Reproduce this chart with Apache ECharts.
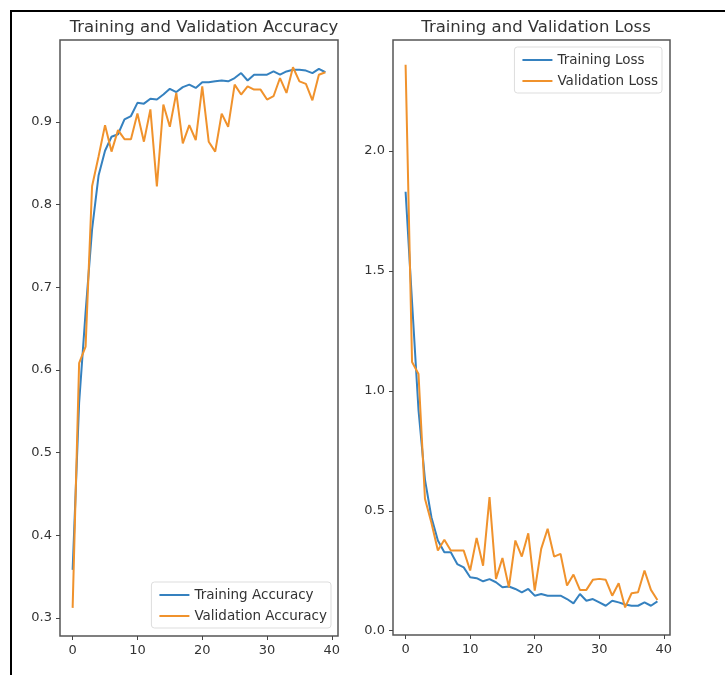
<!DOCTYPE html>
<html>
<head>
<meta charset="utf-8">
<script src="https://cdn.jsdelivr.net/npm/echarts@6/dist/echarts.min.js"></script>
<style>
  html, body { margin: 0; padding: 0; background: #fff; }
  #chart { width: 725px; height: 675px; }
</style>
</head>
<body>
<div id="chart"></div>
<script>
var trainAcc = [0.358, 0.56, 0.67, 0.77, 0.835, 0.865, 0.882, 0.885, 0.903, 0.907,
    0.923, 0.922, 0.928, 0.927, 0.933, 0.940, 0.936, 0.942, 0.945, 0.941,
    0.948, 0.948, 0.949, 0.950, 0.949, 0.953, 0.959, 0.950, 0.957, 0.957,
    0.957, 0.961, 0.957, 0.961, 0.963, 0.963, 0.962, 0.959, 0.964, 0.960];
var valAcc = [0.312, 0.608, 0.628, 0.822, 0.858, 0.896, 0.864, 0.890, 0.879, 0.879,
    0.910, 0.876, 0.915, 0.822, 0.921, 0.894, 0.935, 0.874, 0.896, 0.878,
    0.943, 0.876, 0.864, 0.910, 0.894, 0.945, 0.933, 0.943, 0.939, 0.939,
    0.927, 0.931, 0.953, 0.935, 0.966, 0.949, 0.946, 0.926, 0.957, 0.960];
var trainLoss = [1.83, 1.37, 0.92, 0.63, 0.473, 0.376, 0.327, 0.327, 0.278, 0.264,
    0.223, 0.219, 0.206, 0.215, 0.202, 0.181, 0.184, 0.174, 0.160, 0.174,
    0.146, 0.153, 0.146, 0.146, 0.146, 0.132, 0.114, 0.153, 0.125, 0.132,
    0.118, 0.104, 0.125, 0.118, 0.109, 0.104, 0.104, 0.118, 0.104, 0.122];
var valLoss = [2.36, 1.12, 1.07, 0.55, 0.45, 0.334, 0.379, 0.334, 0.334, 0.334,
    0.251, 0.387, 0.271, 0.557, 0.216, 0.303, 0.181, 0.376, 0.309, 0.406,
    0.167, 0.341, 0.425, 0.309, 0.320, 0.188, 0.234, 0.170, 0.170, 0.212,
    0.216, 0.212, 0.146, 0.198, 0.097, 0.156, 0.160, 0.251, 0.170, 0.128];
var xTicks = [0, 10, 20, 30, 40];
var accTicks = [0.3, 0.4, 0.5, 0.6, 0.7, 0.8, 0.9];
var lossTicks = [0.0, 0.5, 1.0, 1.5, 2.0];

var blue = '#3581bf';
var orange = '#f0922c';
var font = 'DejaVu Sans';

function pairs(arr) {
    return arr.map(function (v, i) { return [i, v]; });
}

function xAxis(idx) {
    return {
        type: 'value', gridIndex: idx, min: -1.95, max: 40.95,
        splitLine: { show: false },
        axisLine: { show: false, onZero: false },
        axisTick: { show: true, length: 4, customValues: xTicks, lineStyle: { color: '#444' } },
        axisLabel: { customValues: xTicks, color: '#333', fontSize: 13, fontFamily: font, margin: 8 }
    };
}

function yAxis(idx, min, max, ticks) {
    return {
        type: 'value', gridIndex: idx, min: min, max: max,
        splitLine: { show: false },
        axisLine: { show: false, onZero: false },
        axisTick: { show: true, length: 4, customValues: ticks, lineStyle: { color: '#444' } },
        axisLabel: {
            customValues: ticks, color: '#333', fontSize: 13, fontFamily: font, margin: 8,
            formatter: function (v) { return v.toFixed(1); }
        }
    };
}

function line(name, data, color, idx) {
    return {
        name: name, type: 'line', xAxisIndex: idx, yAxisIndex: idx,
        data: pairs(data), showSymbol: false, symbol: 'none', animation: false,
        lineStyle: { color: color, width: 2 }, itemStyle: { color: color }
    };
}

function legend(names, right, top) {
    return {
        data: names, orient: 'vertical', right: right, top: top,
        icon: 'rect', itemWidth: 30, itemHeight: 2, itemGap: 7,
        padding: [6, 4, 5, 8],
        borderColor: '#ddd', borderWidth: 1, borderRadius: 3,
        backgroundColor: '#fff',
        textStyle: { color: '#333', fontSize: 13.5, fontFamily: font }
    };
}

var chart = echarts.init(document.getElementById('chart'));
chart.setOption({
    animation: false,
    title: [
        { text: 'Training and Validation Accuracy', left: 199, top: 14, textAlign: 'center',
          textStyle: { color: '#333', fontSize: 16.5, fontWeight: 'normal', fontFamily: font } },
        { text: 'Training and Validation Loss', left: 531, top: 14, textAlign: 'center',
          textStyle: { color: '#333', fontSize: 16.5, fontWeight: 'normal', fontFamily: font } }
    ],
    grid: [
        { left: 60, top: 40, width: 278, height: 596, show: true, borderColor: '#555', borderWidth: 1.5 },
        { left: 393, top: 40, width: 277, height: 595, show: true, borderColor: '#555', borderWidth: 1.5 }
    ],
    xAxis: [xAxis(0), xAxis(1)],
    yAxis: [yAxis(0, 0.278, 0.999, accTicks), yAxis(1, -0.018, 2.463, lossTicks)],
    legend: [
        legend(['Training Accuracy', 'Validation Accuracy'], 394, 582),
        legend(['Training Loss', 'Validation Loss'], 63, 47)
    ],
    graphic: [{
        type: 'rect', shape: { x: 11, y: 11, width: 740, height: 690 },
        style: { fill: null, stroke: '#000', lineWidth: 2 }, z: 100
    }],
    series: [
        line('Training Accuracy', trainAcc, blue, 0),
        line('Validation Accuracy', valAcc, orange, 0),
        line('Training Loss', trainLoss, blue, 1),
        line('Validation Loss', valLoss, orange, 1)
    ]
});
</script>
</body>
</html>
